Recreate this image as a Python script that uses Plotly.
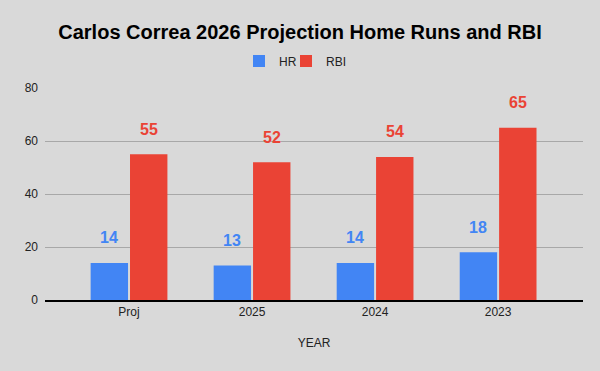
import plotly.graph_objects as go

categories = ["Proj", "2025", "2024", "2023"]
hr = [14, 13, 14, 18]
rbi = [55, 52, 54, 65]

BLUE = "#4285F4"
RED = "#EA4335"
BG = "#d9d9d9"
FONT = "Liberation Sans, Arial, sans-serif"

fig = go.Figure()
fig.add_trace(go.Bar(x=categories, y=hr, name="HR", legend="legend", showlegend=True,
                     marker=dict(color=BLUE, line=dict(width=0))))
fig.add_trace(go.Bar(x=categories, y=rbi, name="RBI", legend="legend2", showlegend=True,
                     marker=dict(color=RED, line=dict(width=0))))

for series, color, shift in ((hr, BLUE, -20), (rbi, RED, 20)):
    for i, v in enumerate(series):
        fig.add_annotation(x=i, y=v, text=f"<b>{v}</b>", showarrow=False,
                           xref="x", yref="y",
                           xshift=shift, yshift=25, yanchor="middle",
                           font=dict(family=FONT, size=16, color=color))

leg_common = dict(orientation="h", xanchor="left", y=1.127, yanchor="middle",
                  font=dict(family=FONT, size=12, color="#222222"),
                  bgcolor="rgba(0,0,0,0)", itemwidth=30, visible=True)

fig.update_layout(
    width=600, height=371,
    showlegend=True,
    paper_bgcolor=BG, plot_bgcolor=BG,
    margin=dict(l=45, r=17, t=88, b=71),
    font=dict(family=FONT, size=12, color="#222222"),
    title=dict(text="<b>Carlos Correa 2026 Projection Home Runs and RBI</b>",
               x=0.5, xanchor="center", y=1 - 32 / 371, yanchor="middle",
               font=dict(family=FONT, size=20, color="#000000")),
    legend=dict(x=(239 - 45) / 538, **leg_common),
    legend2=dict(x=(286 - 45) / 538, **leg_common),
    barmode="group", bargap=0.36, bargroupgap=0.05,
    xaxis=dict(type="category", range=[-0.683, 3.69], showgrid=False, showline=True,
               linecolor="#000000", linewidth=1.5, ticks="",
               tickfont=dict(size=12, color="#222222"),
               title=dict(text="YEAR", font=dict(size=12, color="#222222"), standoff=20)),
    yaxis=dict(range=[0, 80], tickvals=[0, 20, 40, 60, 80], showgrid=True,
               gridcolor="#a8a8a8", gridwidth=1, zeroline=False, showline=False,
               ticks="", tickfont=dict(size=12, color="#222222"), ticklabelstandoff=6),
)

fig.write_html("out.html", config={"displayModeBar": False},
               post_script="document.body.style.margin='0';")
